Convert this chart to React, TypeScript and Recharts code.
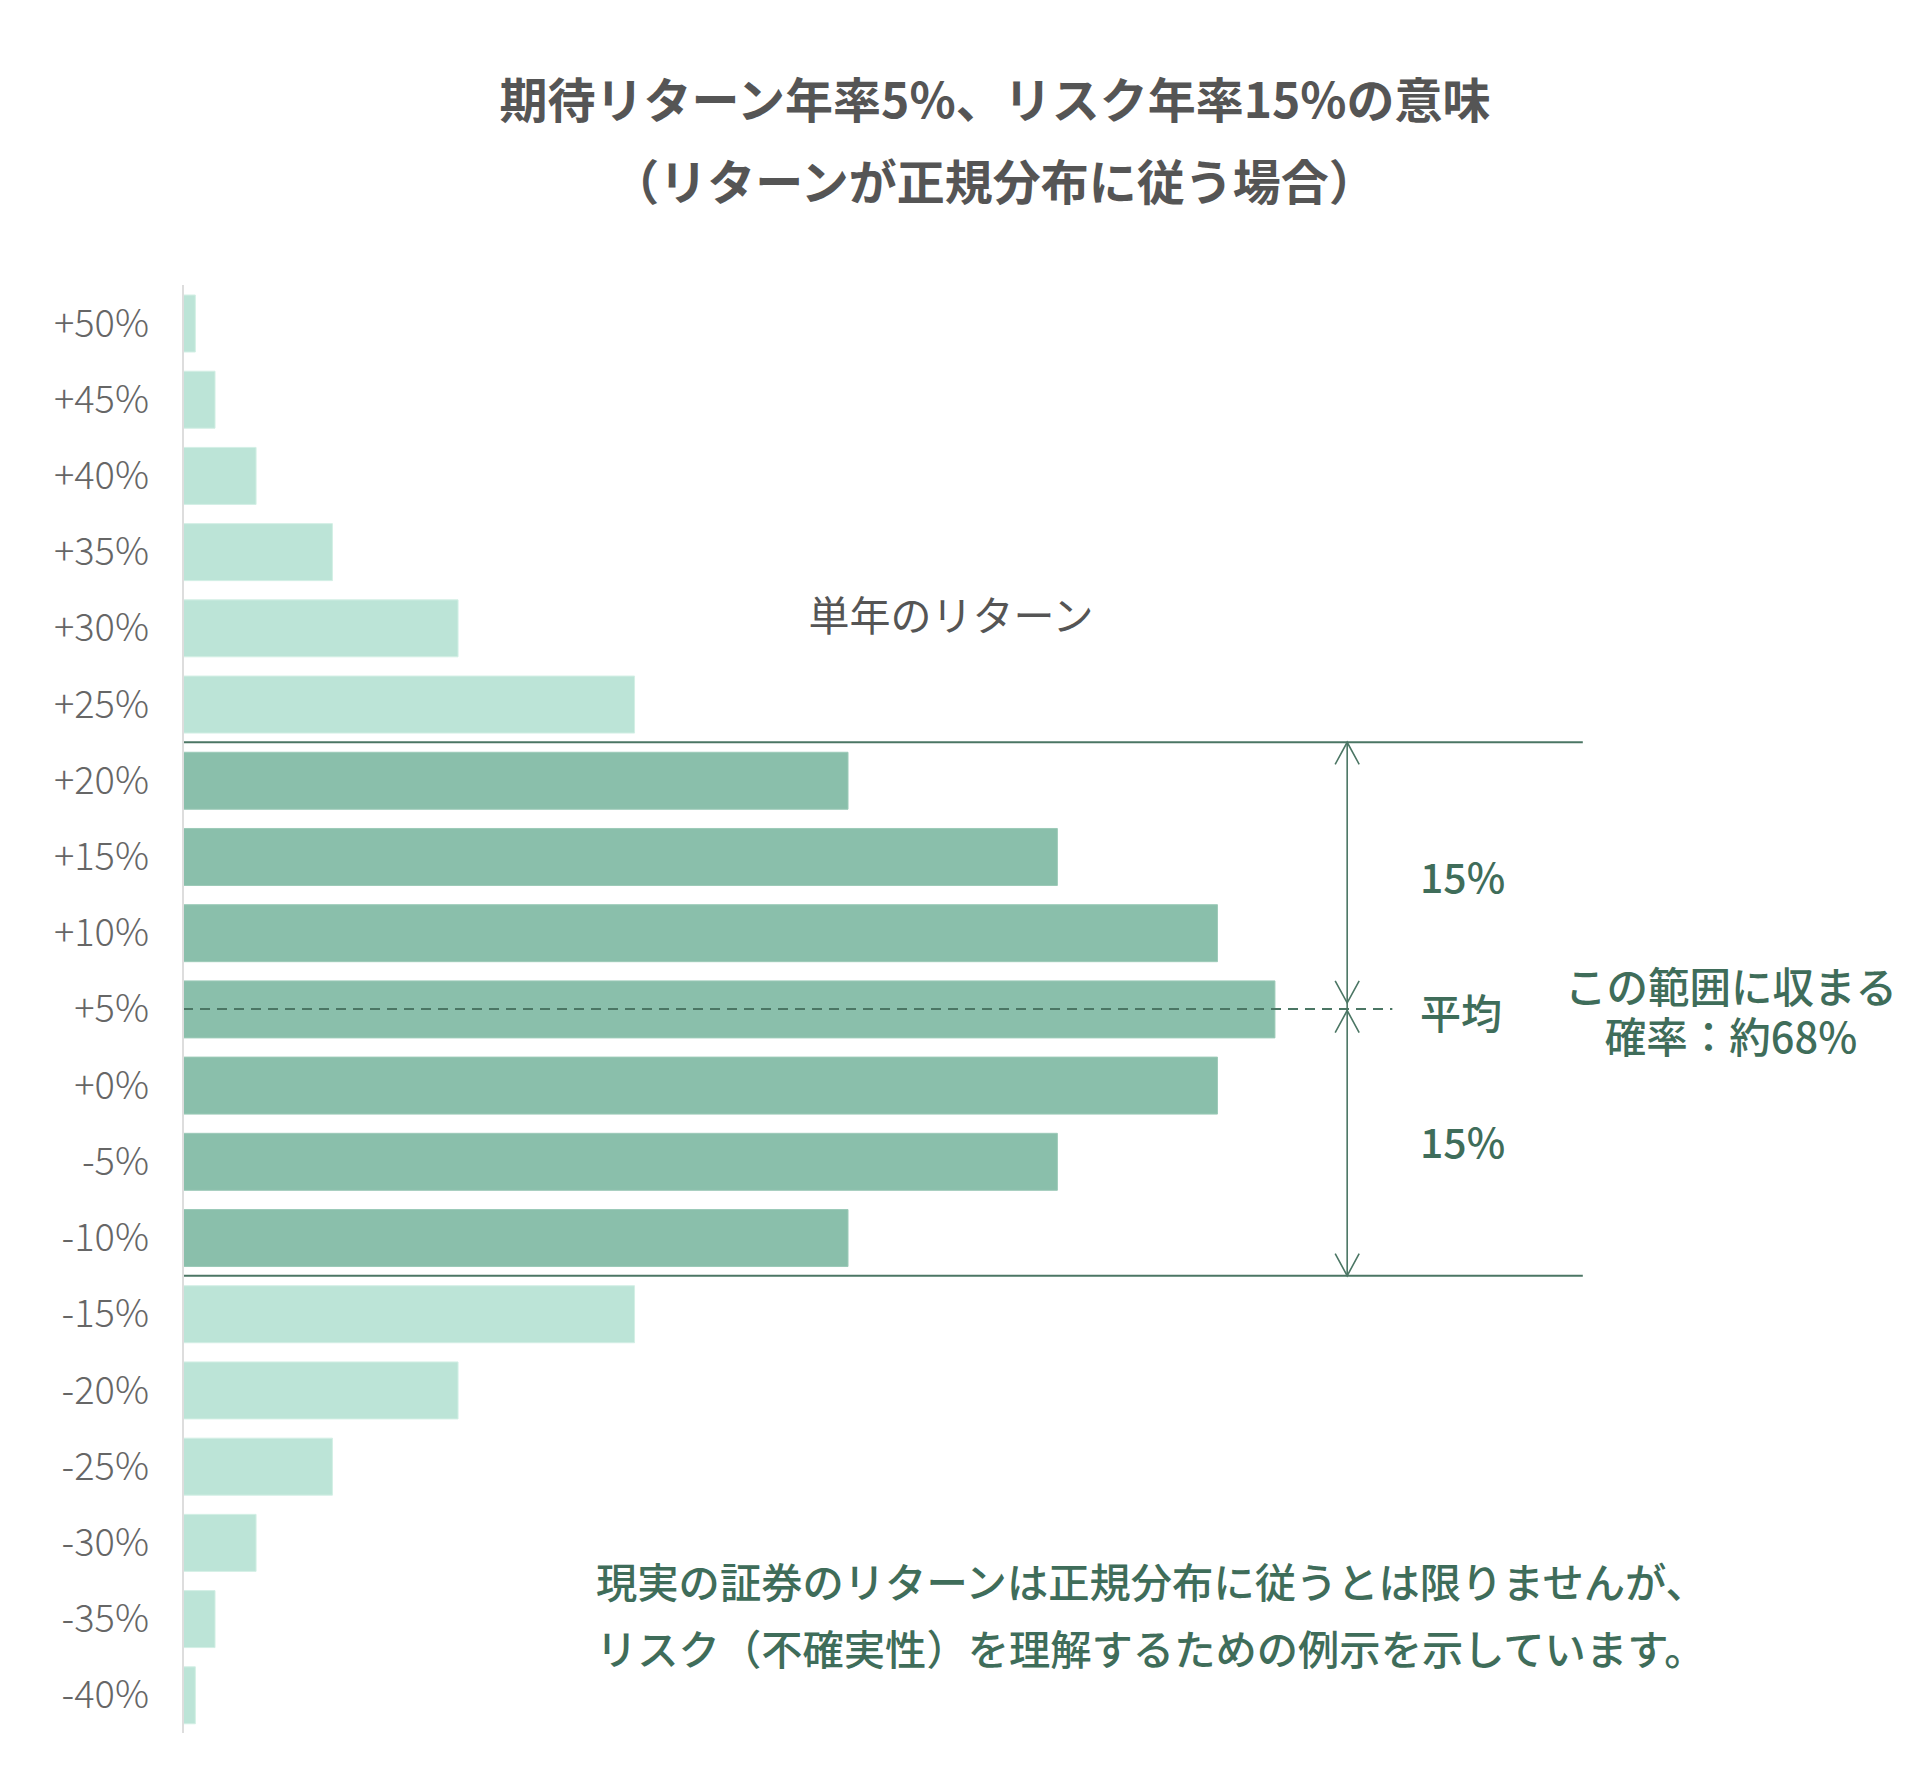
import { BarChart, Bar, XAxis, YAxis, Cell, ReferenceLine, ReferenceDot } from 'recharts';

const returns = [50, 45, 40, 35, 30, 25, 20, 15, 10, 5, 0, -5, -10, -15, -20, -25, -30, -35, -40];
const probability = [0.15, 0.39, 0.89, 1.82, 3.35, 5.5, 8.1, 10.65, 12.6, 13.3, 12.6, 10.65, 8.1, 5.5, 3.35, 1.82, 0.89, 0.39, 0.15];
const mean = 5;
const risk = 15;

const data = returns.map((ret, i) => ({ ret, p: probability[i] }));

const FONT = '"Noto Sans CJK JP", "Noto Sans", sans-serif';
const GREEN = '#3f6d5a';
const LINE = '#4b7664';

const fmt = (v: number) => (v >= 0 ? `+${v}%` : `${v}%`);

const arrowHead = (dir: 'up' | 'down') => (props: any) => {
  const { cx, cy } = props;
  const s = dir === 'up' ? 1 : -1;
  return (
    <path
      d={`M${cx - 12},${cy + s * 22} L${cx},${cy} L${cx + 12},${cy + s * 22}`}
      fill="none"
      stroke={LINE}
      strokeWidth={1.6}
    />
  );
};

const txt = (x: number, y: number, color: string, size: number, weight = 400): React.CSSProperties => ({
  position: 'absolute',
  left: x,
  top: y,
  transform: 'translate(-50%, -50%)',
  color,
  fontSize: size,
  fontWeight: weight,
  whiteSpace: 'nowrap',
  lineHeight: 1,
});

export default function App() {
  const arrowX = 14.18;
  return (
    <div style={{ position: 'relative', width: 1920, height: 1791, fontFamily: FONT, background: '#fff' }}>
      <style>{'body{margin:0}'}</style>
      <div style={txt(995, 97, '#555', 48, 700)}>期待リターン年率5%、リスク年率15%の意味</div>
      <div style={txt(994, 179, '#555', 48, 700)}>（リターンが正規分布に従う場合）</div>

      <BarChart
        width={1920}
        height={1791}
        data={data}
        layout="vertical"
        margin={{ top: 285, right: 95, bottom: 58, left: 0 }}
      >
        <XAxis type="number" hide domain={[0, 20]} />
        <YAxis
          type="number"
          dataKey="ret"
          reversed
          domain={[-42.5, 52.5]}
          ticks={returns}
          interval={0}
          width={183}
          tickFormatter={fmt}
          axisLine={{ stroke: '#dddddd', strokeWidth: 2 }}
          tickLine={false}
          tickSize={0}
          tickMargin={34}
          tick={{ fill: '#666', fontSize: 38, fontWeight: 300, fontFamily: FONT }}
        />
        <Bar dataKey="p" barSize={57} isAnimationActive={false}>
          {data.map((d) => {
            const inside = d.ret <= mean + risk && d.ret >= mean - risk;
            return (
              <Cell
                key={d.ret}
                fill={inside ? '#8abfab' : '#bce4d7'}
                stroke={inside ? '#9ccab8' : '#d3efe5'}
                strokeWidth={1}
              />
            );
          })}
        </Bar>
        <ReferenceLine
          segment={[{ x: 0, y: mean + risk + 2.5 }, { x: 17.05, y: mean + risk + 2.5 }]}
          stroke={LINE}
          strokeWidth={2}
        />
        <ReferenceLine
          segment={[{ x: 0, y: mean - risk - 2.5 }, { x: 17.05, y: mean - risk - 2.5 }]}
          stroke={LINE}
          strokeWidth={2}
        />
        <ReferenceLine
          segment={[{ x: 0, y: mean }, { x: 14.73, y: mean }]}
          stroke={LINE}
          strokeWidth={2}
          strokeDasharray="10 7"
        />
        <ReferenceLine
          segment={[{ x: arrowX, y: mean + risk + 2.5 }, { x: arrowX, y: mean - risk - 2.5 }]}
          stroke={LINE}
          strokeWidth={1.6}
        />
        <ReferenceDot x={arrowX} y={mean + risk + 2.5} r={0} shape={arrowHead('up')} />
        <ReferenceDot x={arrowX} y={mean + 0.4} r={0} shape={arrowHead('down')} />
        <ReferenceDot x={arrowX} y={mean - 0.1} r={0} shape={arrowHead('up')} />
        <ReferenceDot x={arrowX} y={mean - risk - 2.5} r={0} shape={arrowHead('down')} />
      </BarChart>

      <div style={txt(951, 613, '#555', 41)}>単年のリターン</div>
      <div style={{ ...txt(1420, 875, GREEN, 41, 500), transform: 'translate(0, -50%)' }}>15%</div>
      <div style={{ ...txt(1420, 1011, GREEN, 41, 500), transform: 'translate(0, -50%)' }}>平均</div>
      <div style={{ ...txt(1420, 1140, GREEN, 41, 500), transform: 'translate(0, -50%)' }}>15%</div>
      <div style={{ ...txt(1731, 1010, GREEN, 41.5, 500), lineHeight: '50px', textAlign: 'center' }}>
        この範囲に収まる
        <br />
        確率：約68%
      </div>
      <div style={{ ...txt(596, 1581, GREEN, 41.3, 500), transform: 'translate(0, -50%)' }}>
        現実の証券のリターンは正規分布に従うとは限りませんが、
      </div>
      <div style={{ ...txt(596, 1648, GREEN, 41.3, 500), transform: 'translate(0, -50%)' }}>
        リスク（不確実性）を理解するための例示を示しています。
      </div>
    </div>
  );
}
